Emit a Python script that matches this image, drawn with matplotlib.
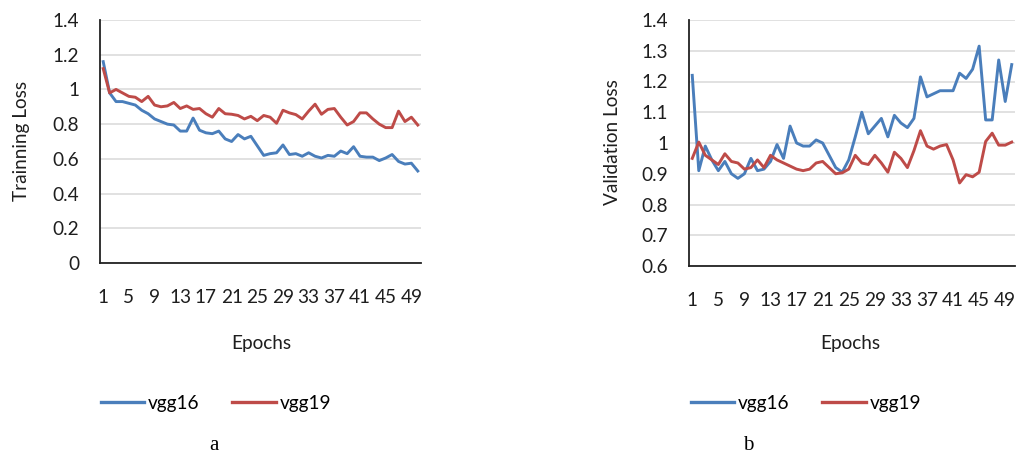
import matplotlib
matplotlib.use("Agg")
import matplotlib.pyplot as plt
from matplotlib.lines import Line2D

epochs = list(range(1, 51))
tick_epochs = list(range(1, 50, 4))

train_vgg16 = [1.16, 0.98, 0.93, 0.93, 0.92, 0.91, 0.88, 0.86, 0.83, 0.815,
               0.80, 0.795, 0.76, 0.76, 0.835, 0.765, 0.75, 0.745, 0.76, 0.715,
               0.70, 0.74, 0.715, 0.73, 0.675, 0.62, 0.63, 0.635, 0.68, 0.625,
               0.63, 0.615, 0.635, 0.615, 0.605, 0.62, 0.615, 0.645, 0.63, 0.67,
               0.615, 0.61, 0.61, 0.59, 0.605, 0.625, 0.585, 0.57, 0.575, 0.53]
train_vgg19 = [1.12, 0.98, 1.00, 0.98, 0.96, 0.955, 0.93, 0.96, 0.91, 0.90,
               0.905, 0.925, 0.89, 0.905, 0.885, 0.89, 0.86, 0.84, 0.89, 0.86,
               0.857, 0.85, 0.83, 0.845, 0.82, 0.85, 0.84, 0.805, 0.88, 0.865,
               0.855, 0.83, 0.875, 0.915, 0.857, 0.885, 0.89, 0.84, 0.795, 0.815,
               0.865, 0.865, 0.83, 0.80, 0.78, 0.78, 0.875, 0.815, 0.84, 0.795]
val_vgg16 = [1.22, 0.91, 0.99, 0.945, 0.91, 0.94, 0.90, 0.885, 0.90, 0.95,
             0.91, 0.915, 0.94, 0.995, 0.95, 1.055, 1.00, 0.99, 0.99, 1.01,
             1.00, 0.96, 0.92, 0.905, 0.945, 1.02, 1.10, 1.03, 1.055, 1.08,
             1.02, 1.09, 1.065, 1.05, 1.08, 1.215, 1.15, 1.16, 1.17, 1.17,
             1.17, 1.227, 1.21, 1.24, 1.315, 1.075, 1.075, 1.27, 1.135, 1.255]
val_vgg19 = [0.95, 1.003, 0.96, 0.945, 0.93, 0.965, 0.94, 0.935, 0.915, 0.92,
             0.945, 0.92, 0.96, 0.945, 0.935, 0.925, 0.915, 0.91, 0.915, 0.935,
             0.94, 0.92, 0.90, 0.903, 0.915, 0.96, 0.935, 0.93, 0.96, 0.935,
             0.905, 0.97, 0.95, 0.92, 0.975, 1.04, 0.99, 0.98, 0.99, 0.995,
             0.945, 0.87, 0.897, 0.89, 0.905, 1.005, 1.032, 0.993, 0.993, 1.003]

series_names = ["vgg16", "vgg19"]
colors = ["#4A7EBB", "#BE4B48"]

W, H = 1016, 458
fig = plt.figure(figsize=(W / 100, H / 100), dpi=100)
FONT = ["Lato", "DejaVu Sans"]
fs = 13.7
TXT = "#1E1E1E"


def px_axes(l, t, r, b):
    return fig.add_axes([l / W, 1 - b / H, (r - l) / W, (b - t) / H])


def style(ax, ymin, ymax, step):
    ax.set_xlim(0.5, 50.5)
    ax.set_ylim(ymin, ymax)
    yt = [round(ymin + i * step, 2) for i in range(int(round((ymax - ymin) / step)) + 1)]
    ax.set_yticks(yt)
    ax.set_yticklabels([f"{v:g}" for v in yt], fontfamily=FONT, fontsize=fs, color=TXT)
    ax.set_xticks(tick_epochs)
    ax.set_xticklabels([str(e) for e in tick_epochs], fontfamily=FONT, fontsize=fs, color=TXT)
    ax.tick_params(axis="both", length=0)
    ax.tick_params(axis="y", pad=15)
    ax.tick_params(axis="x", pad=19)
    for s in ["top", "right"]:
        ax.spines[s].set_visible(False)
    for s in ["left", "bottom"]:
        ax.spines[s].set_color("#222222")
        ax.spines[s].set_linewidth(1.3)
    ax.grid(axis="y", color="#D9D9D9", linewidth=1.1)
    ax.set_axisbelow(True)


ax1 = px_axes(100, 20, 421, 263)
ax1.plot(epochs, train_vgg16, color=colors[0], lw=2.1, label=series_names[0])
ax1.plot(epochs, train_vgg19, color=colors[1], lw=2.1, label=series_names[1])
style(ax1, 0, 1.4, 0.2)

ax2 = px_axes(689, 20, 1015, 266)
ax2.plot(epochs, val_vgg16, color=colors[0], lw=2.1, label=series_names[0])
ax2.plot(epochs, val_vgg19, color=colors[1], lw=2.1, label=series_names[1])
style(ax2, 0.6, 1.4, 0.1)


def ftext(x, y, s, **kw):
    fig.text(x / W, 1 - y / H, s, ha="center", va="center", **kw)


ftext(22, 141, "Trainning Loss", rotation=90, fontfamily=FONT, fontsize=fs, color=TXT)
ftext(613, 142, "Validation Loss", rotation=90, fontfamily=FONT, fontsize=fs, color=TXT)
ftext(261, 343, "Epochs", fontfamily=FONT, fontsize=fs, color=TXT)
ftext(850, 343, "Epochs", fontfamily=FONT, fontsize=fs, color=TXT)
ftext(214, 446, "a", fontfamily=["Liberation Serif", "DejaVu Serif"], fontsize=15, color="black")
ftext(748, 446, "b", fontfamily=["Liberation Serif", "DejaVu Serif"], fontsize=15, color="black")

for cx in (216, 806):
    handles = [Line2D([0], [0], color=c, lw=2.4) for c in colors]
    fig.legend(handles, series_names, loc="center", bbox_to_anchor=(cx / W, 1 - 403 / H),
               ncol=2, frameon=False, handlelength=2.3, handletextpad=0.2,
               columnspacing=1.7, prop={"family": FONT, "size": fs})

fig.savefig("out.png", dpi=100)
